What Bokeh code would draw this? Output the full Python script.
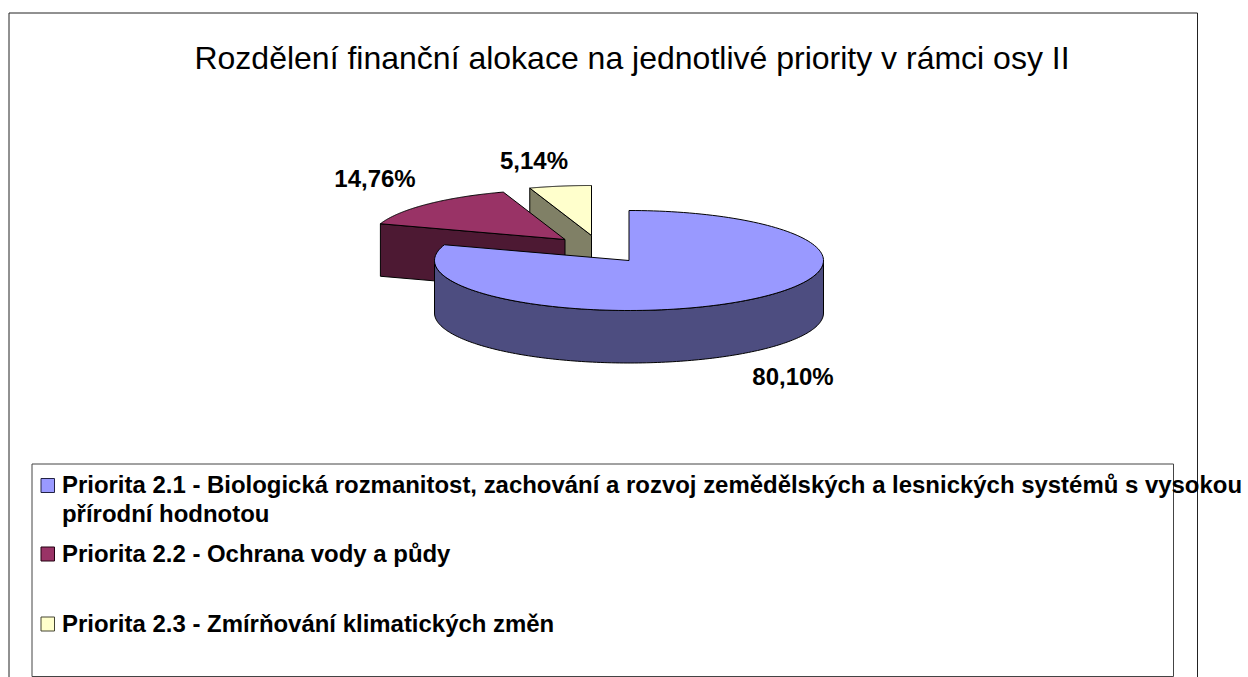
import numpy as np
from bokeh.plotting import figure
from bokeh.core.properties import value
from bokeh.embed import file_html
from bokeh.resources import INLINE

title = "Rozdělení finanční alokace na jednotlivé priority v rámci osy II"
categories = ["Priorita 2.1 - Biologická rozmanitost, zachování a rozvoj zemědělských a lesnických systémů s vysokou",
              "Priorita 2.2 - Ochrana vody a půdy",
              "Priorita 2.3 - Zmírňování klimatických změn"]
continuation = "přírodní hodnotou"
shares = [80.10, 14.76, 5.14]
share_labels = ["80,10%", "14,76%", "5,14%"]
top_colors = ["#9999FF", "#993366", "#FFFFCC"]
side_colors = ["#4D4D80", "#4D1933", "#808066"]

# layout (page pixels)
CX, CY, RX, RY, DEPTH = 628.5, 260, 194.5, 50, 52.5
OFFSETS = [(0, 0), (-64, -21), (-37.5, -25)]
FONT = value("Liberation Sans")

W, H = 1248, 677
p = figure(width=W, height=H, x_range=(0, W), y_range=(H, 0),
           output_backend="svg", toolbar_location=None,
           x_axis_type=None, y_axis_type=None, min_border=0,
           outline_line_color=None, background_fill_color="white")
p.grid.visible = False


def rim(a0, a1, dx, dy):
    a = np.radians(np.linspace(a0, a1, 160))
    return CX + dx + RX * np.sin(a), CY + dy - RY * np.cos(a)


# outer frame and legend box
p.quad(left=[8.5], right=[1197], top=[12.5], bottom=[690], fill_color="white",
       line_color="#222222", line_width=1)
p.quad(left=[31.5], right=[1173], top=[463.5], bottom=[676], fill_color="white",
       line_color="#444444", line_width=1)

# slice angles from the shares
edges = np.concatenate([[0], np.cumsum(shares)]) / sum(shares) * 360

# painted back to front: smallest slice, middle slice, main slice
for i in [2, 1, 0]:
    a0, a1 = edges[i], edges[i + 1]
    dx, dy = OFFSETS[i]
    ax, ay = CX + dx, CY + dy
    if i == 0:
        xs, ys = rim(90, 270, dx, dy)
        p.patch(np.r_[xs, xs[::-1]], np.r_[ys, ys[::-1] + DEPTH],
                fill_color=side_colors[i], line_color="black", line_width=1)
    else:
        # the cut face at the slice's leading edge faces the viewer
        ex, ey = rim(a0, a0, dx, dy)
        ex, ey = ex[0], ey[0]
        p.patch([ex, ax, ax, ex], [ey, ay, ay + DEPTH, ey + DEPTH],
                fill_color=side_colors[i], line_color="black", line_width=1)
    xs, ys = rim(a0, a1, dx, dy)
    p.patch(np.r_[ax, xs], np.r_[ay, ys], fill_color=top_colors[i],
            line_color="black", line_width=1)

# title
p.text(x=[631.5], y=[57], text=[title], text_font=FONT, text_font_size="32px",
       text_align="center", text_baseline="middle", text_color="black")

# value labels
p.text(x=[792.5, 374.5, 533.5], y=[376, 178, 160], text=share_labels,
       text_font=FONT, text_font_style="bold", text_font_size="24px",
       text_align="center", text_baseline="middle", text_color="black")

# legend
for cat, yc, col, edge in zip(categories, [485, 553.5, 623.5], top_colors, ["#222244", "#220011", "#444433"]):
    p.quad(left=[40.5], right=[54], top=[yc - 7], bottom=[yc + 7],
           fill_color=col, line_color=edge, line_width=1)
    p.text(x=[61.5], y=[yc - 1], text=[cat], text_font=FONT, text_font_style="bold",
           text_font_size="23.95px", text_align="left", text_baseline="middle", text_color="black")
p.text(x=[61.5], y=[513], text=[continuation], text_font=FONT, text_font_style="bold",
       text_font_size="23.95px", text_align="left", text_baseline="middle", text_color="black")

open("out.html", "w").write(file_html(p, INLINE))
